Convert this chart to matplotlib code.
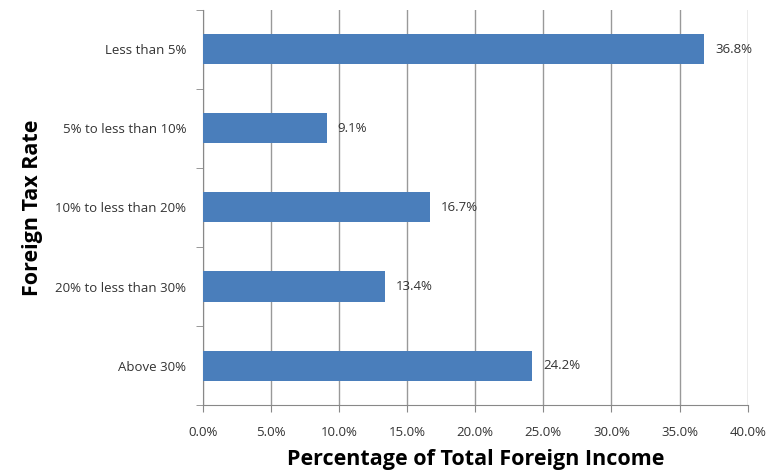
import matplotlib.pyplot as plt
import numpy as np

categories = ["Less than 5%", "5% to less than 10%", "10% to less than 20%",
              "20% to less than 30%", "Above 30%"]
values = [36.8, 9.1, 16.7, 13.4, 24.2]
xticks = [0, 5, 10, 15, 20, 25, 30, 35, 40]

plt.rcParams['font.family'] = ['Open Sans', 'DejaVu Sans']

fig = plt.figure(figsize=(7.74, 4.71), dpi=100)
ax = fig.add_axes([0.262, 0.140, 0.704, 0.839])

y = np.arange(len(categories))
ax.barh(y, values, height=0.38, color='#4a7ebb', zorder=3)
for yi, v in zip(y, values):
    ax.text(v + 0.8, yi, f"{v:.1f}%", va='center', ha='left', fontsize=9.5, color='#333333')

ax.set_xlim(0, 40)
ax.set_ylim(len(categories) - 0.5, -0.5)
ax.set_xticks(xticks)
ax.set_xticklabels([f"{t:.1f}%" for t in xticks], fontsize=9.5, color='#333333')
ax.set_yticks(y)
ax.set_yticklabels(categories, fontsize=9.5, color='#333333')
ax.tick_params(axis='y', length=0, pad=12)
ax.set_yticks(np.arange(-0.5, len(categories), 1), minor=True)
ax.tick_params(axis='y', which='minor', length=5, color='#888888', direction='out')
ax.tick_params(axis='x', length=5, color='#888888', direction='out', pad=10)

ax.grid(axis='x', color='#999999', linewidth=1, zorder=0)
for s in ['top', 'right']:
    ax.spines[s].set_visible(False)
for s in ['left', 'bottom']:
    ax.spines[s].set_color('#888888')

ax.set_xlabel("Percentage of Total Foreign Income", fontsize=15.5, fontweight='bold')
ax.set_ylabel("Foreign Tax Rate", fontsize=15.5, fontweight='bold')
ax.xaxis.set_label_coords(0.5, -0.112)
ax.yaxis.set_label_coords(-0.293, 0.5)

fig.savefig("out.png", dpi=100)
